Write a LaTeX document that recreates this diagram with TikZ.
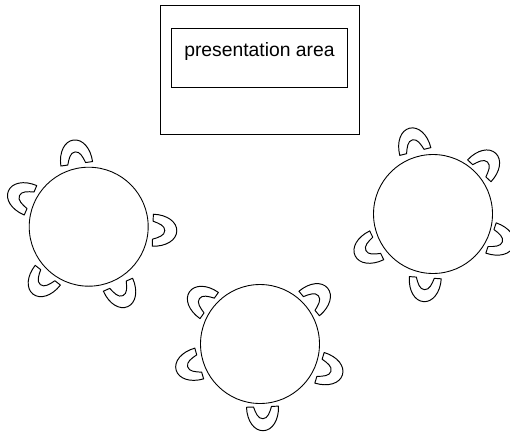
\documentclass[tikz,border=0pt]{standalone}
\usepackage{fontspec}
\setmainfont{Liberation Sans}
\tikzset{
  room/.style={draw,rectangle,inner sep=0pt,line width=0.5pt},
  roundtable/.style={draw,circle,inner sep=0pt,minimum size=2.38cm,line width=0.5pt},
  chair/.pic={
    \draw[line width=0.55pt,line join=round](-16,0)..controls(-16,14)and(-9,24)..(0,24)
      ..controls(9,24)and(16,14)..(16,0)--(9,0)
      ..controls(7,6)and(5,12)..(0,12)..controls(-5,12)and(-7,6)..(-9,0)--cycle;
  }
}

\begin{document}
\begin{tikzpicture}[x=0.02cm,y=0.02cm]
       \useasboundingbox(0,0)rectangle(510,434);
       \node[room,minimum width=3.98cm,minimum height=2.58cm](area)at(259.5,364.5){};
       \node[room,minimum width=3.52cm,minimum height=1.18cm](screen)at(259.5,376.5){};
       \node[font=\fontsize{11}{13}\selectfont](label)at(259.5,382.5){presentation area};
       % tables
       \node[roundtable](left)at(88.7,207.3){};
       \node[roundtable](right)at(433,220){};
       \node[roundtable](front)at(260,90){};
       % chairs: x, y, outward angle
       \foreach \x/\y/\a in {76.7/270.2/98,30.5/233.7/157,152.8/203.8/-2,47.8/158.8/232,118/149.3/-66,
         415.3/282.5/104,479.3/263.2/47,491/196/-19,425.3/156.3/-94,376.7/188.7/206,
         209.2/128.5/145,309.2/130.5/40,319.5/66.2/-17,262.5/27.3/-88,199.2/70.5/196}
         \pic[rotate=\a-90]at(\x,\y){chair};
    \end{tikzpicture}
\end{document}
